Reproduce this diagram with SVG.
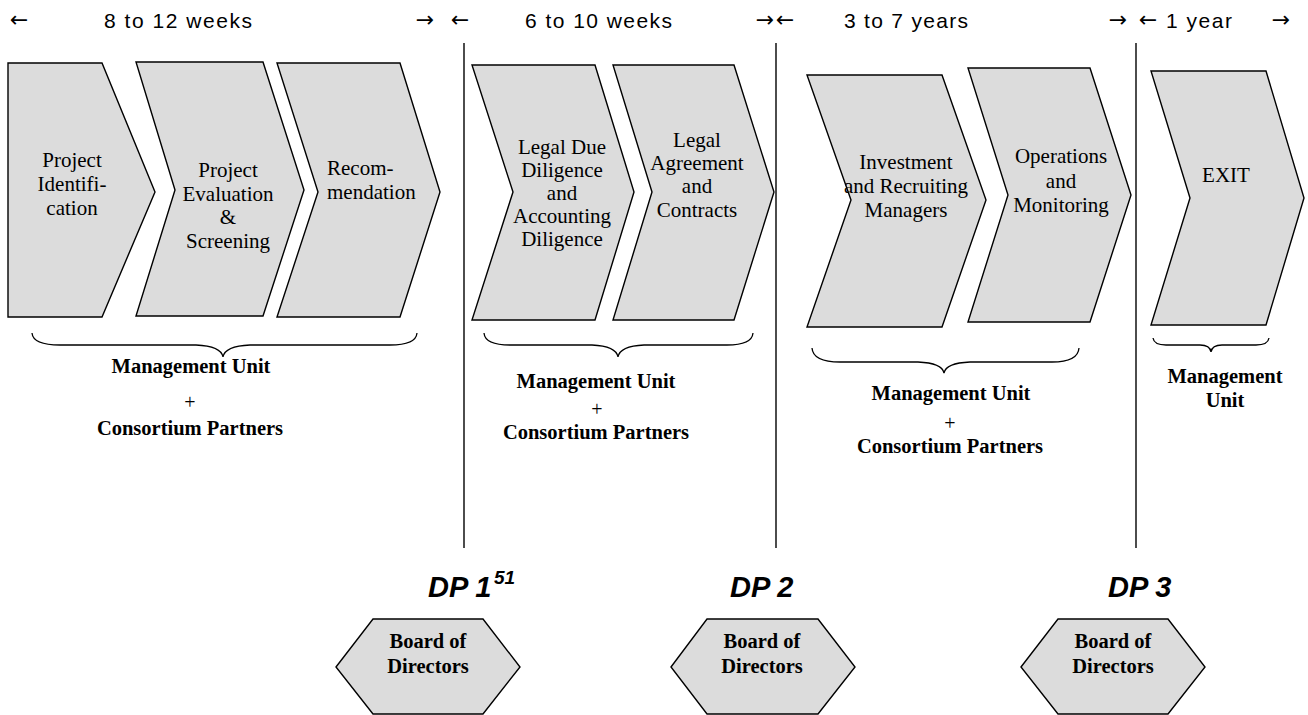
<svg xmlns="http://www.w3.org/2000/svg" width="1308" height="715" viewBox="0 0 1308 715">
<style>
.bg{fill:#ffffff}
.chev{fill:#dcdcdc;stroke:#000;stroke-width:1.4;stroke-linejoin:miter}
.hex{fill:#dcdcdc;stroke:#000;stroke-width:1.4}
.vline{stroke:#000;stroke-width:1.4;fill:none}
.brace{stroke:#000;stroke-width:1.3;fill:none}
.top{font-family:"Liberation Sans",Arial,sans-serif;font-size:21px;fill:#000}
.arr{font-family:"DejaVu Sans",sans-serif;font-size:22px;fill:#000;text-anchor:middle}
.ct{font-family:"Liberation Serif","Times New Roman",serif;font-size:21px;fill:#000;text-anchor:middle}
.bl{font-family:"Liberation Serif","Times New Roman",serif;font-size:20.5px;font-weight:bold;fill:#000;text-anchor:middle}
.pl{font-family:"Liberation Serif","Times New Roman",serif;font-size:20px;fill:#000;text-anchor:middle}
.dp{font-family:"Liberation Sans",Arial,sans-serif;font-size:29px;font-weight:bold;font-style:italic;fill:#000}
.sup{font-family:"Liberation Sans",Arial,sans-serif;font-size:19px;font-weight:bold;font-style:italic;fill:#000}
</style>
<rect class="bg" x="0" y="0" width="1308" height="715"/>

<g id="timeline">
  <text class="arr" x="19" y="27">←</text>
  <text class="top" x="104" y="28" textLength="148" lengthAdjust="spacing">8 to 12 weeks</text>
  <text class="arr" x="425" y="27">→</text>
  <text class="arr" x="460" y="27">←</text>
  <text class="top" x="525" y="28" textLength="147" lengthAdjust="spacing">6 to 10 weeks</text>
  <text class="arr" x="765" y="27">→</text>
  <text class="arr" x="785" y="27">←</text>
  <text class="top" x="844" y="28" textLength="124" lengthAdjust="spacing">3 to 7 years</text>
  <text class="arr" x="1118" y="27">→</text>
  <text class="arr" x="1148" y="27">←</text>
  <text class="top" x="1166" y="28" textLength="66" lengthAdjust="spacing">1 year</text>
  <text class="arr" x="1281" y="27">→</text>
</g>

<g id="connectors">
  <line class="vline" x1="464" y1="43" x2="464" y2="548"/>
  <line class="vline" x1="776" y1="43" x2="776" y2="548"/>
  <line class="vline" x1="1136" y1="43" x2="1136" y2="548"/>
  <path class="brace" d="M32,333 Q33,345 60,345 L196,345 Q221,346 223,357 Q225,346 250,345 L390,345 Q416,345 417,333"/>
  <path class="brace" d="M484,333 Q485,345 510,345 L592,345 Q616,346 618,357 Q620,346 644,345 L727,345 Q752,345 753,333"/>
  <path class="brace" d="M812,348 Q813,362 840,362 L918,362 Q942,363 944,373 Q946,363 970,362 L1052,362 Q1078,362 1079,348"/>
  <path class="brace" d="M1153,338 Q1154,345 1166,345 L1200,345 Q1210,345 1211,352 Q1212,345 1222,345 L1256,345 Q1268,345 1269,338"/>
</g>

<g id="n1">
  <polygon class="chev" points="8,63 102,63 155,192 102,317 8,317"/>
  <text class="ct" x="72" y="167">Project</text>
  <text class="ct" x="72" y="191">Identifi-</text>
  <text class="ct" x="72" y="215">cation</text>
</g>
<g id="n2">
  <polygon class="chev" points="136,62 263,62 304,190 263,316 136,316 175,190"/>
  <text class="ct" x="228" y="177">Project</text>
  <text class="ct" x="228" y="201">Evaluation</text>
  <text class="ct" x="228" y="224">&amp;</text>
  <text class="ct" x="228" y="248">Screening</text>
</g>
<g id="n3">
  <polygon class="chev" points="277,63 400,63 440,192 400,317 277,317 318,192"/>
  <text class="ct" x="327" y="175" style="text-anchor:start">Recom-</text>
  <text class="ct" x="327" y="199" style="text-anchor:start">mendation</text>
</g>
<g id="n4">
  <polygon class="chev" points="472,65 595,65 634,192 595,320 472,320 513,192"/>
  <text class="ct" x="562" y="154">Legal Due</text>
  <text class="ct" x="562" y="177">Diligence</text>
  <text class="ct" x="562" y="200">and</text>
  <text class="ct" x="562" y="223">Accounting</text>
  <text class="ct" x="562" y="246">Diligence</text>
</g>
<g id="n5">
  <polygon class="chev" points="613,65 734,65 774,192 734,320 613,320 652,192"/>
  <text class="ct" x="697" y="147">Legal</text>
  <text class="ct" x="697" y="170">Agreement</text>
  <text class="ct" x="697" y="193">and</text>
  <text class="ct" x="697" y="217">Contracts</text>
</g>
<g id="n6">
  <polygon class="chev" points="807,75 942,75 986,200 942,327 807,327 851,200"/>
  <text class="ct" x="906" y="169">Investment</text>
  <text class="ct" x="906" y="193">and Recruiting</text>
  <text class="ct" x="906" y="217">Managers</text>
</g>
<g id="n7">
  <polygon class="chev" points="968,68 1090,68 1131,195 1090,322 968,322 1008,195"/>
  <text class="ct" x="1061" y="163">Operations</text>
  <text class="ct" x="1061" y="188">and</text>
  <text class="ct" x="1061" y="212">Monitoring</text>
</g>
<g id="n8">
  <polygon class="chev" points="1151,71 1266,71 1304,198 1266,325 1151,325 1190,198"/>
  <text class="ct" x="1226" y="182">EXIT</text>
</g>

<g id="label1">
  <text class="bl" x="191" y="373">Management Unit</text>
  <text class="pl" x="190" y="409">+</text>
  <text class="bl" x="190" y="435">Consortium Partners</text>
</g>
<g id="label2">
  <text class="bl" x="596" y="388">Management Unit</text>
  <text class="pl" x="597" y="416">+</text>
  <text class="bl" x="596" y="439">Consortium Partners</text>
</g>
<g id="label3">
  <text class="bl" x="951" y="400">Management Unit</text>
  <text class="pl" x="950" y="430">+</text>
  <text class="bl" x="950" y="453">Consortium Partners</text>
</g>
<g id="label4">
  <text class="bl" x="1225" y="383">Management</text>
  <text class="bl" x="1225" y="407">Unit</text>
</g>

<g id="dp1">
  <text class="dp" x="428" y="597">DP 1</text>
  <text class="sup" x="494" y="584">51</text>
</g>
<g id="dp2">
  <text class="dp" x="730" y="597">DP 2</text>
</g>
<g id="dp3">
  <text class="dp" x="1108" y="597">DP 3</text>
</g>

<g id="board1">
  <polygon class="hex" points="336,667 373,619 483,619 520,667 483,714 373,714"/>
  <text class="bl" x="428" y="648">Board of</text>
  <text class="bl" x="428" y="673">Directors</text>
</g>
<g id="board2">
  <polygon class="hex" points="671,667 707,619 818,619 855,667 818,714 707,714"/>
  <text class="bl" x="762" y="648">Board of</text>
  <text class="bl" x="762" y="673">Directors</text>
</g>
<g id="board3">
  <polygon class="hex" points="1021,667 1058,619 1168,619 1205,667 1168,714 1058,714"/>
  <text class="bl" x="1113" y="648">Board of</text>
  <text class="bl" x="1113" y="673">Directors</text>
</g>
</svg>
